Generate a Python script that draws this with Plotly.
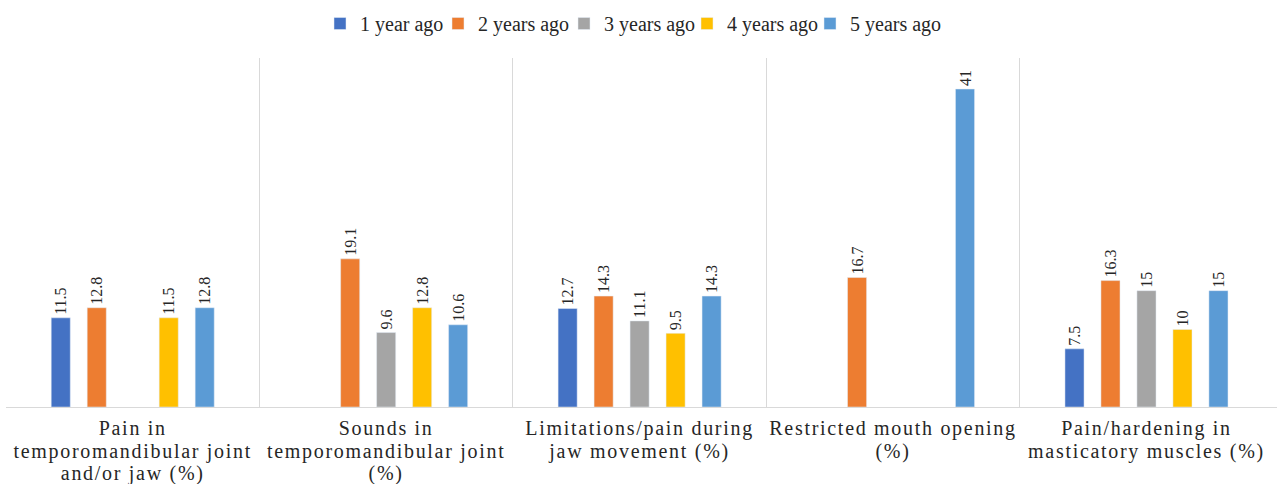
import plotly.graph_objects as go

categories = [
    "Pain in<br>temporomandibular joint<br>and/or jaw (%)",
    "Sounds in<br>temporomandibular joint<br>(%)",
    "Limitations/pain during<br>jaw movement (%)",
    "Restricted mouth opening<br>(%)",
    "Pain/hardening in<br>masticatory muscles (%)",
]
series_names = ["1 year ago", "2 years ago", "3 years ago", "4 years ago", "5 years ago"]
year1 = [11.5, None, 12.7, None, 7.5]
year2 = [12.8, 19.1, 14.3, 16.7, 16.3]
year3 = [None, 9.6, 11.1, None, 15]
year4 = [11.5, 12.8, 9.5, None, 10]
year5 = [12.8, 10.6, 14.3, 41, 15]
colors = ["#4472C4", "#ED7D31", "#A5A5A5", "#FFC000", "#5B9BD5"]

# left pixel positions of each legend entry (text starts ~40px to the right)
legend_left_px = [320, 438, 564, 687, 810]

x = list(range(len(categories)))
ticktext = ["<br>".join(f'<span style="font-size:20px;letter-spacing:1.7px">{ln}</span>'
                        for ln in c.split("<br>"))
            for c in categories]

fig = go.Figure()
layout_legends = {}
for i, (name, vals, col) in enumerate(zip(series_names, [year1, year2, year3, year4, year5], colors)):
    lg = "legend" if i == 0 else f"legend{i + 1}"
    fig.add_trace(go.Bar(
        x=x, y=vals, name=name, marker_color=col, legend=lg,
        text=[("" if v is None else f"{v:g}\u00a0\u00a0") for v in vals],
        textposition="outside", textangle=-90,
        textfont=dict(family="Liberation Serif", size=16, color="#262626"),
        cliponaxis=False,
    ))
    layout_legends[lg] = dict(
        orientation="h", xref="container", yref="container",
        x=legend_left_px[i] / 1277, xanchor="left", y=1 - 4 / 484, yanchor="top",
        font=dict(family="Liberation Serif", size=20, color="#262626"),
        itemwidth=30, bgcolor="rgba(0,0,0,0)",
    )

fig.update_layout(
    width=1277, height=484,
    margin=dict(l=6, r=0, t=58, b=77),
    paper_bgcolor="white", plot_bgcolor="white",
    barmode="group", bargap=0.29, bargroupgap=0.47,
    font=dict(family="Liberation Serif", color="#262626"),
    showlegend=True,
    uniformtext=dict(minsize=16, mode="show"),
    **layout_legends,
)
fig.update_xaxes(
    range=[-0.5, len(categories) - 0.5 + 0.015],
    tickmode="array", tickvals=x, ticktext=ticktext,
    tickfont=dict(family="Liberation Serif", size=17, color="#262626"),
    showgrid=False, zeroline=False, showline=True, linecolor="#d9d9d9", linewidth=1,
    ticks="", ticklabelstandoff=7,
    minor=dict(tickvals=[i + 0.5 for i in x[:-1]], showgrid=True, gridcolor="#d9d9d9", gridwidth=1),
)
fig.update_yaxes(range=[0, 45], visible=False, showgrid=False, zeroline=False)
fig.write_html("out.html")
